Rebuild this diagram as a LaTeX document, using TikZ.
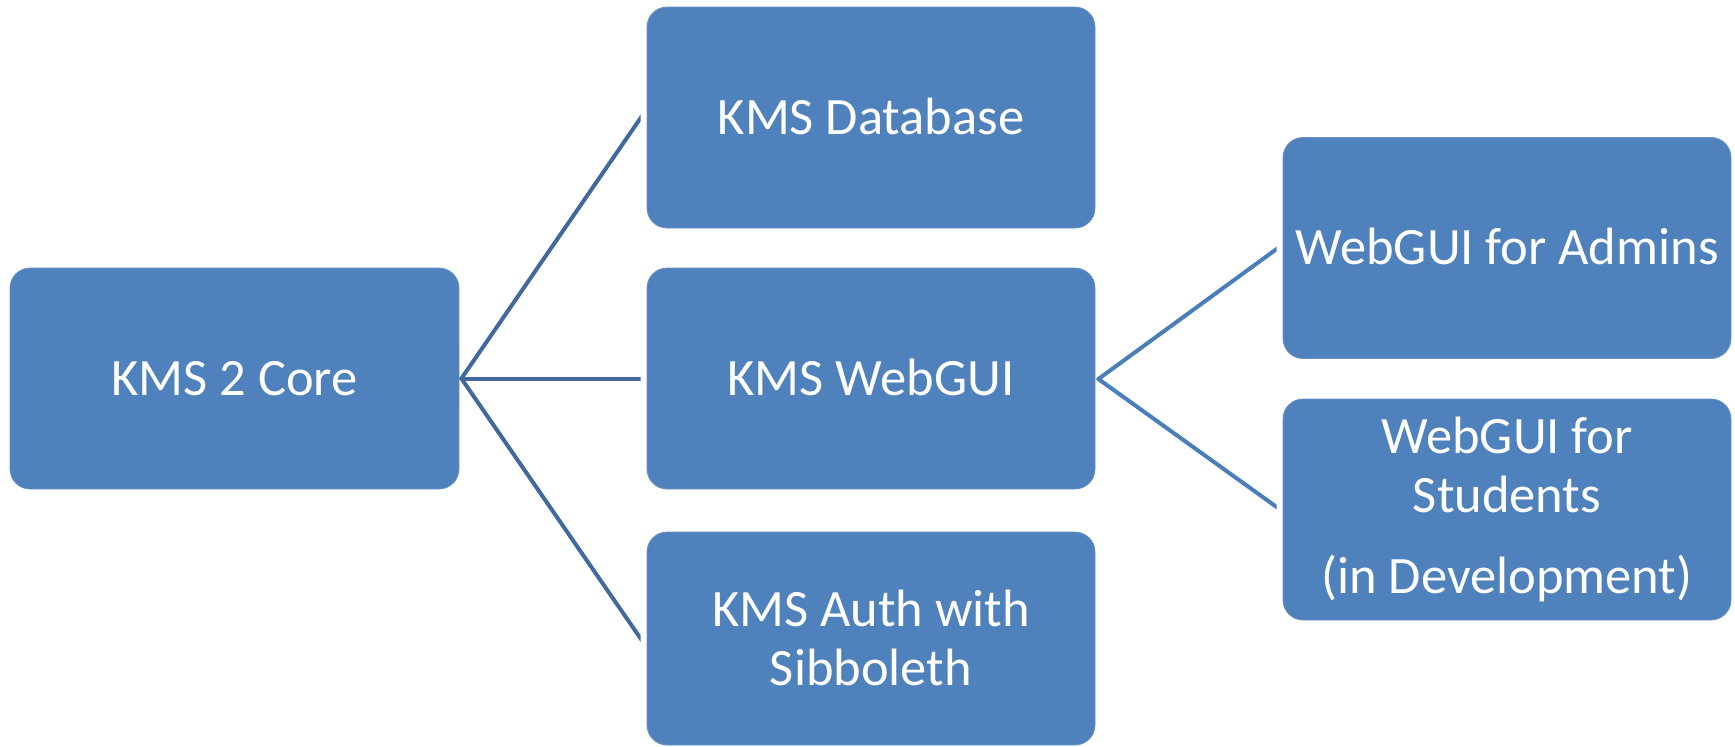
\documentclass[tikz,border=0pt]{standalone}
\usepackage{fontspec}
\setmainfont{Carlito}
\usetikzlibrary{calc}
\definecolor{boxblue}{HTML}{4F81BD}
\definecolor{boxedge}{HTML}{6A93C8}
\definecolor{lineL}{HTML}{41699D}
\definecolor{lineR}{HTML}{4A7EBB}
\tikzset{
  kbox/.style={rectangle, rounded corners=20pt, fill=boxblue, draw=boxedge, line width=0.8pt,
    minimum width=448pt, minimum height=221pt, inner sep=0pt, text=white,
    font=\fontsize{52.5}{59}\selectfont, align=center},
  one/.style={text height=33.8pt, text depth=0pt},
  ktext/.style={text=white, font=\fontsize{52.5}{59}\selectfont, align=center, anchor=base, inner sep=0pt},
  conn/.style={line width=4pt, line cap=round},
}
\begin{document}
\begin{tikzpicture}[x=1pt, y=-1pt]
\useasboundingbox (0,0) rectangle (1735,747);
% boxes
\node[kbox, one, minimum width=449pt] (core) at (234.5,378.5) {KMS 2 Core};
\node[kbox, one] (db) at (871,117.5) {KMS Database};
\node[kbox, one] (web) at (871,378.5) {KMS WebGUI};
\node[kbox, minimum height=213pt] (auth) at (871,638.5) {};
\node[kbox, one] (adm) at (1507,248) {WebGUI for Admins};
\node[kbox] (stu) at (1507,509.5) {};
% multi-line texts (anchored at the baseline of their last line)
\node[ktext] (authT) at (871,685) {KMS Auth with\\Sibboleth};
\node[ktext] (stuT) at (1507,593) {WebGUI for\\Students\\[22pt](in Development)};
% junctions and connector ends
\coordinate (j1) at ($(core.east)+(2,0)$);
\coordinate (j2) at ($(web.east)+(3,0.5)$);
\coordinate (e1) at ($(db.west)+(-6,0.5)$);
\coordinate (e2) at ($(web.west)+(-6,0)$);
\coordinate (e3) at ($(auth.west)+(-6,0)$);
\coordinate (e4) at ($(adm.west)+(-6,1)$);
\coordinate (e5) at ($(stu.west)+(-6,-2.5)$);
\begin{scope}
\clip ($(j1)+(-10,-400)$) rectangle ($(e2)+(0,400)$);
\draw[conn, draw=lineL] (j1) -- ($(j1)!1.05!(e1)$);
\draw[conn, draw=lineL] (j1) -- ($(j1)!1.05!(e2)$);
\draw[conn, draw=lineL] (j1) -- ($(j1)!1.05!(e3)$);
\end{scope}
\begin{scope}
\clip ($(j2)+(-10,-300)$) rectangle ($(e4 |- j2)+(0,300)$);
\draw[conn, draw=lineR] (j2) -- ($(j2)!1.05!(e4)$);
\draw[conn, draw=lineR] (j2) -- ($(j2)!1.05!(e5)$);
\end{scope}
\end{tikzpicture}
\end{document}
